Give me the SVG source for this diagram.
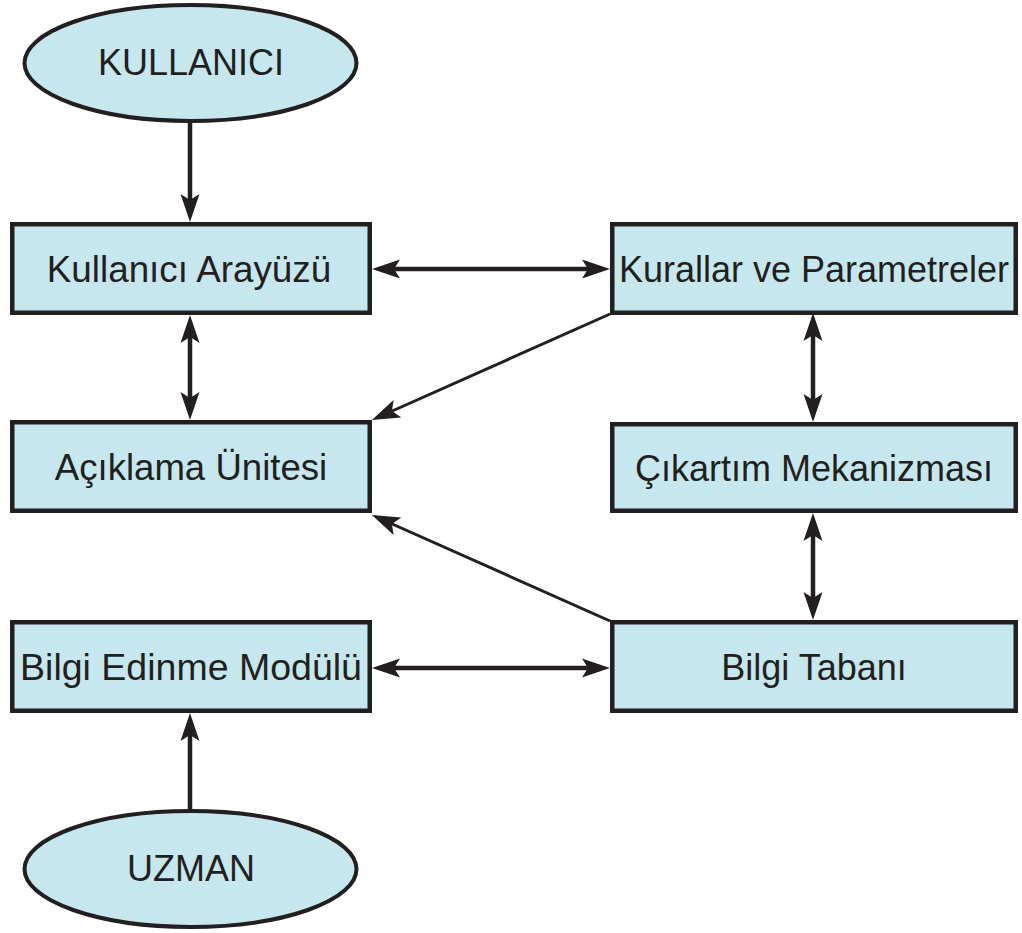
<svg xmlns="http://www.w3.org/2000/svg" width="1022" height="933" viewBox="0 0 1022 933">
  <style>
    .box { fill: #c5e7ed; stroke: #231f20; stroke-width: 4.5; }
    .oval { fill: #c5e7ed; stroke: #231f20; stroke-width: 4; }
    .lbl { font-family: "Liberation Sans", Arial, sans-serif; font-size: 36px; fill: #231f20; text-anchor: middle; }
    .thick { stroke: #231f20; stroke-width: 4.5; fill: none; }
    .thin { stroke: #231f20; stroke-width: 3; fill: none; }
  </style>
  <defs>
    <!-- barbed arrowhead; tip sits 10px beyond the line end -->
    <marker id="head" viewBox="0 0 28 20" refX="18" refY="10" markerWidth="28" markerHeight="20" markerUnits="userSpaceOnUse" orient="auto-start-reverse">
      <path d="M0,0.5 L28,10 L0,19.5 L6,10 Z" fill="#231f20"/>
    </marker>
  </defs>
  <rect width="1022" height="933" fill="#ffffff"/>

  <g id="connectors">
    <!-- KULLANICI -> Kullanıcı Arayüzü -->
    <line class="thick" x1="190" y1="122" x2="190" y2="212" marker-end="url(#head)"/>
    <!-- Kullanıcı Arayüzü <-> Kurallar ve Parametreler -->
    <line class="thick" x1="382" y1="269" x2="600" y2="269" marker-start="url(#head)" marker-end="url(#head)"/>
    <!-- Kullanıcı Arayüzü <-> Açıklama Ünitesi -->
    <line class="thick" x1="190" y1="325" x2="190" y2="410" marker-start="url(#head)" marker-end="url(#head)"/>
    <!-- Kurallar ve Parametreler -> Açıklama Ünitesi -->
    <line class="thin" x1="610" y1="314" x2="381" y2="416" marker-end="url(#head)"/>
    <!-- Kurallar ve Parametreler <-> Çıkartım Mekanizması -->
    <line class="thick" x1="813" y1="323" x2="813" y2="412" marker-start="url(#head)" marker-end="url(#head)"/>
    <!-- Çıkartım Mekanizması <-> Bilgi Tabanı -->
    <line class="thick" x1="813" y1="523" x2="813" y2="610" marker-start="url(#head)" marker-end="url(#head)"/>
    <!-- Bilgi Tabanı -> Açıklama Ünitesi -->
    <line class="thin" x1="610" y1="621" x2="381" y2="519" marker-end="url(#head)"/>
    <!-- Bilgi Edinme Modülü <-> Bilgi Tabanı -->
    <line class="thick" x1="382" y1="668" x2="600" y2="668" marker-start="url(#head)" marker-end="url(#head)"/>
    <!-- UZMAN -> Bilgi Edinme Modülü -->
    <line class="thick" x1="190" y1="810" x2="190" y2="723" marker-end="url(#head)"/>
  </g>

  <g id="kullanici">
    <ellipse class="oval" cx="190.5" cy="63" rx="166" ry="58"/>
    <text class="lbl" x="191" y="75">KULLANICI</text>
  </g>
  <g id="kullanici-arayuzu">
    <rect class="box" x="12.25" y="224.25" width="357.5" height="88.5"/>
    <text class="lbl" x="189" y="282" style="font-size:36.8px">Kullanıcı Arayüzü</text>
  </g>
  <g id="kurallar-parametreler">
    <rect class="box" x="612.25" y="224.25" width="403.5" height="88.5"/>
    <text class="lbl" x="814" y="282">Kurallar ve Parametreler</text>
  </g>
  <g id="aciklama-unitesi">
    <rect class="box" x="12.25" y="422.25" width="357.5" height="88.5"/>
    <text class="lbl" x="191" y="480" style="font-size:36.6px">Açıklama Ünitesi</text>
  </g>
  <g id="cikartim-mekanizmasi">
    <rect class="box" x="612.25" y="424.25" width="403.5" height="86.5"/>
    <text class="lbl" x="814" y="481">Çıkartım Mekanizması</text>
  </g>
  <g id="bilgi-edinme-modulu">
    <rect class="box" x="12.25" y="622.25" width="357.5" height="88.5"/>
    <text class="lbl" x="191" y="680" style="font-size:37.5px">Bilgi Edinme Modülü</text>
  </g>
  <g id="bilgi-tabani">
    <rect class="box" x="612.25" y="622.25" width="403.5" height="88.5"/>
    <text class="lbl" x="814" y="680">Bilgi Tabanı</text>
  </g>
  <g id="uzman">
    <ellipse class="oval" cx="190.5" cy="869" rx="166" ry="58"/>
    <text class="lbl" x="191" y="881">UZMAN</text>
  </g>
</svg>
